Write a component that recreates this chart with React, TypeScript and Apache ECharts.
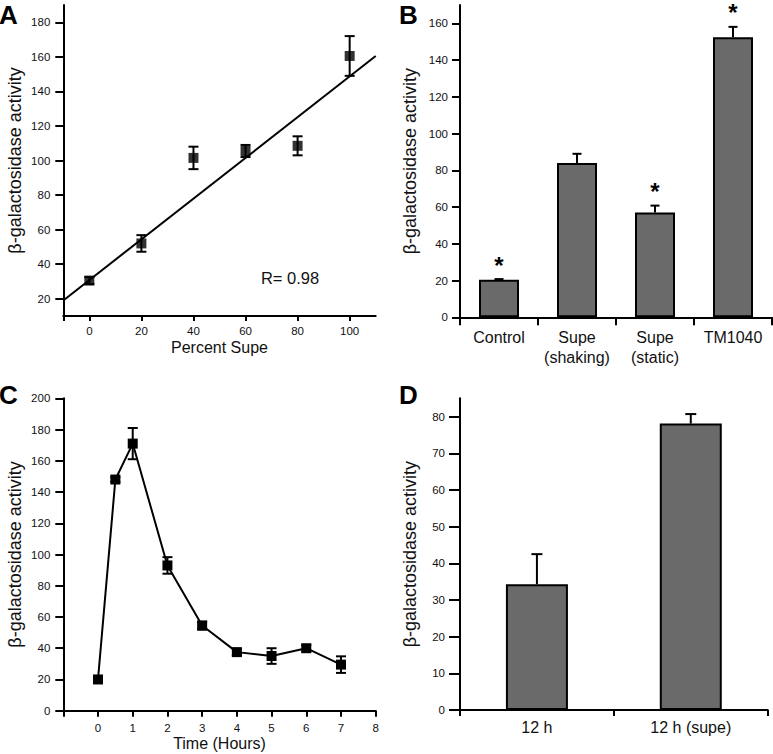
import React, { useEffect, useRef } from "react";
import * as echarts from "echarts";

const FONT = "'Liberation Sans', Arial, Helvetica, sans-serif";
const Y_TITLE = "β-galactosidase activity";

// Panel A
const aX = [0, 20, 40, 60, 80, 100];
const aY = [30.5, 52, 101.5, 105.5, 108.5, 160.5];
const aErr = [2, 4.8, 6.5, 3.5, 5.5, 11.5];
const aFit = [[-10, 19], [110, 160.5]];
const aXTicks = [0, 20, 40, 60, 80, 100];
const aYTicks = [20, 40, 60, 80, 100, 120, 140, 160, 180];

// Panel B
const bCats = ["Control", "Supe\n(shaking)", "Supe\n(static)", "TM1040"];
const bVals = [20.5, 84, 57, 152.5];
const bErr = [0.3, 5, 3.8, 5.6];
const bStar = [1, 0, 1, 1];
const bYTicks = [0, 20, 40, 60, 80, 100, 120, 140, 160];

// Panel C
const cX = [0, 0.5, 1, 2, 3, 4, 5, 6, 7];
const cY = [20, 148, 171, 93, 54.5, 37.5, 35, 40, 29.5];
const cErr = [1.2, 1.5, 10, 5.3, 2.5, 2, 5, 2, 5.3];
const cXTicks = [0, 1, 2, 3, 4, 5, 6, 7, 8];
const cYTicks = [0, 20, 40, 60, 80, 100, 120, 140, 160, 180, 200];

// Panel D
const dCats = ["12 h", "12 h (supe)"];
const dVals = [34.3, 78.1];
const dErr = [8.2, 2.6];
const dYTicks = [0, 10, 20, 30, 40, 50, 60, 70, 80];

const lineSt = { color: "#000", width: 2 };

function errRender(capHalf: number, upOnly: boolean) {
  return (params: any, api: any) => {
    const x = api.value(0);
    const y = api.value(1);
    const e = api.value(2);
    const p0 = api.coord([x, upOnly ? y : y - e]);
    const p1 = api.coord([x, y + e]);
    const st = { stroke: "#000", lineWidth: 2 };
    const children: any[] = [
      { type: "line", shape: { x1: p0[0], y1: p0[1], x2: p1[0], y2: p1[1] }, style: st },
      { type: "line", shape: { x1: p1[0] - capHalf, y1: p1[1], x2: p1[0] + capHalf, y2: p1[1] }, style: st },
    ];
    if (!upOnly) {
      children.push({ type: "line", shape: { x1: p0[0] - capHalf, y1: p0[1], x2: p0[0] + capHalf, y2: p0[1] }, style: st });
    }
    if (api.value(3) === 1) {
      children.push({
        type: "text",
        x: p1[0],
        y: p1[1] - 14,
        style: {
          text: "*",
          fontSize: 24,
          fontWeight: "bold",
          lineHeight: 14,
          fill: "#000",
          align: "center",
          verticalAlign: "middle",
          fontFamily: FONT,
        },
      });
    }
    return { type: "group", children };
  };
}

function valueAxis(opts: any) {
  const { gridIndex, min, max, ticks, labels, tickLen, margin, name, nameGap, nameSize } = opts;
  return {
    type: "value",
    gridIndex,
    min,
    max,
    axisLine: { show: true, onZero: false, lineStyle: lineSt },
    axisTick: { show: true, customValues: ticks, length: tickLen, lineStyle: lineSt },
    axisLabel: { customValues: labels, margin, fontSize: 11.5, color: "#111", fontFamily: FONT },
    splitLine: { show: false },
    name,
    nameLocation: "middle",
    nameGap,
    nameTextStyle: { fontSize: nameSize, color: "#111", fontFamily: FONT },
  };
}

function catAxis(opts: any) {
  const { gridIndex, data, tickLen, margin } = opts;
  return {
    type: "category",
    gridIndex,
    data,
    axisLine: { show: true, onZero: false, lineStyle: lineSt },
    axisTick: { show: true, alignWithLabel: false, interval: 0, length: tickLen, lineStyle: lineSt },
    axisLabel: { interval: 0, margin, fontSize: 16, lineHeight: 20, color: "#111", fontFamily: FONT },
    splitLine: { show: false },
  };
}

const letter = (t: string, x: number, y: number) => ({
  type: "text",
  x,
  y,
  style: { text: t, fontSize: 26, fontWeight: "bold", fill: "#000", fontFamily: FONT, verticalAlign: "top" },
});

const option: any = {
  animation: false,
  backgroundColor: "#fff",
  grid: [
    { left: 63.3, top: 5, width: 312.4, height: 311, outerBoundsMode: "none", containLabel: false },
    { left: 460, top: 5, width: 312, height: 312.3, outerBoundsMode: "none", containLabel: false },
    { left: 63.3, top: 398.3, width: 312.4, height: 312.4, outerBoundsMode: "none", containLabel: false },
    { left: 460, top: 398.3, width: 307.7, height: 311.7, outerBoundsMode: "none", containLabel: false },
  ],
  xAxis: [
    valueAxis({ gridIndex: 0, min: -10, max: 110, ticks: [-10, ...aXTicks], labels: aXTicks, tickLen: 5, margin: 9, name: "Percent Supe", nameGap: 23, nameSize: 16 }),
    catAxis({ gridIndex: 1, data: bCats, tickLen: 8, margin: 10 }),
    valueAxis({ gridIndex: 2, min: -1, max: 8, ticks: [-1, ...cXTicks], labels: cXTicks, tickLen: 6, margin: 11, name: "Time (Hours)", nameGap: 25, nameSize: 16 }),
    catAxis({ gridIndex: 3, data: dCats, tickLen: 6, margin: 7 }),
  ],
  yAxis: [
    valueAxis({ gridIndex: 0, min: 10, max: 190, ticks: aYTicks, labels: aYTicks, tickLen: 8, margin: 13, name: Y_TITLE, nameGap: 39, nameSize: 18 }),
    valueAxis({ gridIndex: 1, min: 0, max: 170, ticks: bYTicks, labels: bYTicks, tickLen: 8, margin: 12, name: Y_TITLE, nameGap: 41, nameSize: 18 }),
    valueAxis({ gridIndex: 2, min: 0, max: 200, ticks: cYTicks, labels: cYTicks, tickLen: 8, margin: 13, name: Y_TITLE, nameGap: 39, nameSize: 18 }),
    valueAxis({ gridIndex: 3, min: 0, max: 85, ticks: dYTicks, labels: dYTicks, tickLen: 11, margin: 15, name: Y_TITLE, nameGap: 41, nameSize: 18 }),
  ],
  series: [
    // A
    {
      type: "line",
      xAxisIndex: 0,
      yAxisIndex: 0,
      data: aFit,
      symbol: "none",
      lineStyle: { color: "#000", width: 2 },
      z: 1,
    },
    {
      type: "custom",
      xAxisIndex: 0,
      yAxisIndex: 0,
      data: aX.map((x, i) => [x, aY[i], aErr[i], 0]),
      renderItem: errRender(5, false),
      z: 2,
    },
    {
      type: "scatter",
      xAxisIndex: 0,
      yAxisIndex: 0,
      data: aX.map((x, i) => [x, aY[i]]),
      symbol: "rect",
      symbolSize: 10,
      itemStyle: { color: "#000" },
      z: 3,
    },
    // B
    {
      type: "bar",
      xAxisIndex: 1,
      yAxisIndex: 1,
      data: bVals,
      barWidth: 40,
      itemStyle: { color: "#6a6a6a", borderColor: "#000", borderWidth: 2 },
      z: 2,
    },
    {
      type: "custom",
      xAxisIndex: 1,
      yAxisIndex: 1,
      data: bVals.map((v, i) => [i, v, bErr[i], bStar[i]]),
      renderItem: errRender(4.5, true),
      z: 3,
    },
    // C
    {
      type: "custom",
      xAxisIndex: 2,
      yAxisIndex: 2,
      data: cX.map((x, i) => [x, cY[i], cErr[i], 0]),
      renderItem: errRender(5, false),
      z: 2,
    },
    {
      type: "line",
      xAxisIndex: 2,
      yAxisIndex: 2,
      data: cX.map((x, i) => [x, cY[i]]),
      symbol: "rect",
      symbolSize: 10,
      showSymbol: true,
      itemStyle: { color: "#000" },
      lineStyle: { color: "#000", width: 2 },
      z: 3,
    },
    // D
    {
      type: "bar",
      xAxisIndex: 3,
      yAxisIndex: 3,
      data: dVals,
      barWidth: 62,
      itemStyle: { color: "#6a6a6a", borderColor: "#000", borderWidth: 2 },
      z: 2,
    },
    {
      type: "custom",
      xAxisIndex: 3,
      yAxisIndex: 3,
      data: dVals.map((v, i) => [i, v, dErr[i], 0]),
      renderItem: errRender(5.5, true),
      z: 3,
    },
  ],
  graphic: [
    letter("A", -1, 1.6),
    letter("B", 399, 1.6),
    letter("C", -1, 381.6),
    letter("D", 399, 381.6),
    {
      type: "text",
      x: 290,
      y: 278,
      style: { text: "R= 0.98", fontSize: 16.5, fill: "#111", fontFamily: FONT, align: "center", verticalAlign: "middle" },
    },
  ],
};

export default function App() {
  const ref = useRef<HTMLDivElement>(null);
  useEffect(() => {
    document.body.style.margin = "0";
    const chart = echarts.init(ref.current as HTMLDivElement, null, { renderer: "svg" });
    chart.setOption(option);
    return () => chart.dispose();
  }, []);
  return <div ref={ref} style={{ width: 773, height: 754 }} />;
}
